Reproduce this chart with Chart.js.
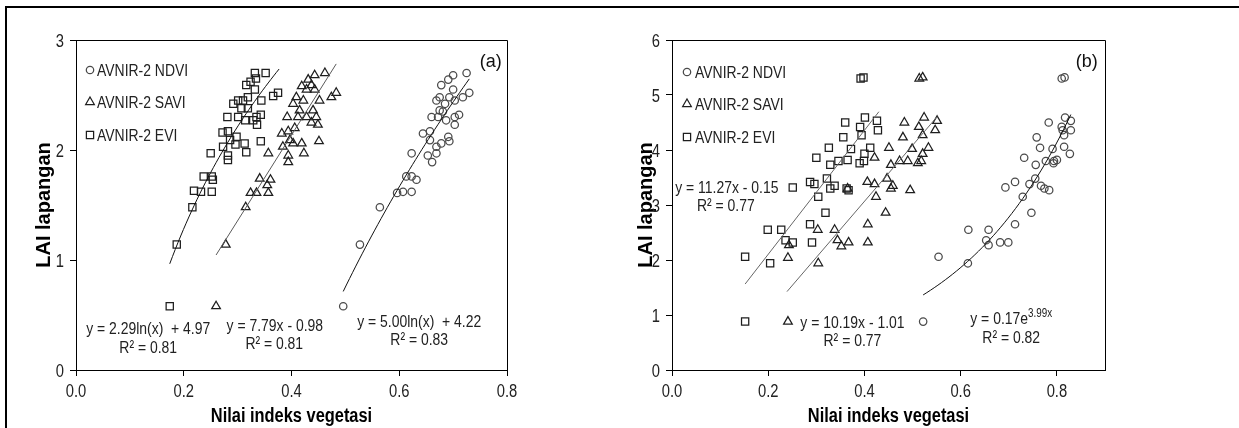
<!DOCTYPE html>
<html><head><meta charset="utf-8">
<script src="https://cdn.jsdelivr.net/npm/chart.js@4.4.0/dist/chart.umd.min.js"></script>
<style>
html,body{margin:0;padding:0;background:#fff;}
#wrap{position:relative;width:1239px;height:428px;overflow:hidden;background:#fff;}
#ca{position:absolute;left:0;top:0;}
#cb{position:absolute;left:620px;top:0;}
#frameTop{position:absolute;left:5px;top:6px;width:1234px;height:2px;background:#000;}
#frameLeft{position:absolute;left:5px;top:6px;width:2px;height:422px;background:#000;}
</style></head>
<body><div id="wrap">
<canvas id="ca" width="620" height="428"></canvas>
<canvas id="cb" width="619" height="428"></canvas>
<div id="frameTop"></div><div id="frameLeft"></div>
</div>
<script>
// ---------- DATA ----------
const seriesNames = ['AVNIR-2 NDVI', 'AVNIR-2 SAVI', 'AVNIR-2 EVI'];
const xTitle = 'Nilai indeks vegetasi';
const yTitle = 'LAI lapangan';

// Panel (a)
const a_evi = [[0.174,0.58],[0.187,1.14],[0.216,1.48],[0.219,1.63],[0.232,1.62],[0.237,1.76],[0.252,1.76],[0.254,1.73],[0.252,1.62],[0.250,1.97],[0.272,2.16],[0.273,2.03],[0.282,1.95],[0.282,1.91],[0.281,2.30],[0.282,2.17],[0.292,2.42],[0.296,2.05],[0.301,2.30],[0.301,2.45],[0.310,2.45],[0.307,2.38],[0.313,2.06],[0.316,1.98],[0.314,2.27],[0.316,2.59],[0.319,2.48],[0.324,2.62],[0.332,2.70],[0.334,2.65],[0.332,2.55],[0.335,2.30],[0.336,2.23],[0.343,2.32],[0.344,2.45],[0.343,2.08],[0.352,2.70],[0.366,2.49],[0.375,2.52],[0.286,2.09],[0.319,2.38],[0.298,2.12],[0.329,2.27]];
const a_savi = [[0.260,0.58],[0.278,1.14],[0.315,1.48],[0.324,1.61],[0.335,1.61],[0.341,1.74],[0.357,1.61],[0.355,1.68],[0.361,1.73],[0.357,1.97],[0.382,2.15],[0.384,2.03],[0.392,2.30],[0.394,1.95],[0.394,1.89],[0.394,2.17],[0.403,2.42],[0.406,2.20],[0.403,2.06],[0.409,2.48],[0.412,2.30],[0.419,2.58],[0.422,2.45],[0.415,2.36],[0.419,2.06],[0.423,1.97],[0.428,2.30],[0.431,2.64],[0.437,2.59],[0.443,2.68],[0.443,2.55],[0.446,2.30],[0.449,2.23],[0.452,2.45],[0.451,2.08],[0.462,2.70],[0.474,2.48],[0.483,2.52],[0.440,2.36],[0.437,2.25],[0.397,2.09],[0.428,2.55]];
const a_ndvi = [[0.496,0.58],[0.527,1.14],[0.564,1.48],[0.596,1.61],[0.607,1.62],[0.623,1.62],[0.613,1.76],[0.623,1.76],[0.632,1.73],[0.623,1.97],[0.644,2.15],[0.657,2.17],[0.653,1.95],[0.661,1.89],[0.660,2.30],[0.657,2.09],[0.669,2.45],[0.669,2.03],[0.669,1.97],[0.672,2.30],[0.675,2.48],[0.678,2.59],[0.685,2.42],[0.678,2.06],[0.687,2.27],[0.691,2.64],[0.691,2.12],[0.693,2.48],[0.693,2.08],[0.700,2.68],[0.700,2.55],[0.703,2.30],[0.703,2.23],[0.711,2.32],[0.703,2.45],[0.718,2.48],[0.725,2.70],[0.730,2.52],[0.675,2.36],[0.681,2.35]];

// Panel (b)
const b_evi = [[0.152,0.88],[0.152,2.06],[0.204,1.94],[0.199,2.55],[0.227,2.55],[0.236,2.36],[0.251,2.32],[0.251,3.32],[0.287,3.42],[0.296,3.38],[0.287,2.65],[0.291,2.32],[0.300,3.86],[0.304,3.15],[0.319,2.86],[0.322,3.48],[0.326,4.04],[0.329,3.73],[0.329,3.30],[0.338,3.35],[0.346,3.80],[0.356,4.23],[0.360,4.50],[0.365,3.82],[0.367,3.27],[0.372,4.02],[0.390,3.76],[0.391,4.42],[0.394,4.27],[0.399,3.80],[0.400,3.93],[0.401,4.59],[0.392,5.30],[0.398,5.32],[0.412,4.04],[0.426,4.53],[0.428,4.36],[0.363,3.30]];
const b_savi = [[0.241,0.88],[0.241,2.04],[0.243,2.27],[0.304,1.94],[0.303,2.55],[0.338,2.55],[0.344,2.36],[0.352,2.25],[0.367,2.32],[0.365,3.30],[0.407,2.65],[0.407,2.32],[0.406,3.42],[0.421,3.38],[0.421,3.86],[0.424,3.15],[0.444,2.86],[0.447,3.48],[0.451,4.04],[0.455,3.73],[0.455,3.30],[0.459,3.35],[0.473,3.80],[0.480,4.23],[0.483,4.50],[0.490,3.80],[0.495,3.27],[0.499,4.02],[0.511,3.76],[0.513,4.42],[0.521,4.27],[0.518,3.80],[0.521,3.93],[0.524,4.59],[0.514,5.30],[0.521,5.32],[0.533,4.04],[0.551,4.53],[0.547,4.36]];
const b_ndvi = [[0.522,0.88],[0.554,2.06],[0.615,1.94],[0.616,2.55],[0.653,2.36],[0.658,2.27],[0.658,2.55],[0.682,2.32],[0.699,2.32],[0.693,3.32],[0.713,3.42],[0.713,2.65],[0.729,3.15],[0.732,3.86],[0.743,3.38],[0.747,2.86],[0.755,3.48],[0.756,3.73],[0.758,4.23],[0.765,4.04],[0.767,3.35],[0.774,3.30],[0.777,3.80],[0.783,4.50],[0.784,3.27],[0.791,4.02],[0.793,3.76],[0.794,3.80],[0.800,3.82],[0.810,4.42],[0.815,4.27],[0.815,4.06],[0.810,5.30],[0.816,5.32],[0.817,4.59],[0.827,3.93],[0.829,4.53],[0.829,4.36],[0.812,4.36]];

// Trendlines: [type, coef1, coef2, xStart, xEnd] from the printed equations
const a_evi_fit  = ['log', 2.29, 4.97, 0.174, 0.377];
const a_savi_fit = ['lin', 7.79, -0.98, 0.260, 0.483];
const a_ndvi_fit = ['log', 5.00, 4.22, 0.496, 0.730];
const b_evi_fit  = ['lin', 11.27, -0.15, 0.152, 0.430];
const b_savi_fit = ['lin', 10.19, -1.01, 0.239, 0.551];
const b_ndvi_fit = ['exp', 0.17, 3.99, 0.522, 0.829];

// Equation labels
const a_eqs = [['y = 2.29ln(x)  + 4.97', 'R² = 0.81'], ['y = 7.79x - 0.98', 'R² = 0.81'], ['y = 5.00ln(x)  + 4.22', 'R² = 0.83']];
const b_eqs = [['y = 11.27x - 0.15', 'R² = 0.77'], ['y = 10.19x - 1.01', 'R² = 0.77'], ['y = 0.17e|3.99x', 'R² = 0.82']];

// ---------- RENDERING ----------
const FR = "'Liberation Sans', Arial, sans-serif";
const SX = 0.82;           // horizontal condensing of the reference lettering
const TXT = '#222';

function fitPoints(f){
  const [t, c1, c2, x0, x1] = f;
  const fn = t === 'lin' ? (x => c1 * x + c2) : t === 'log' ? (x => c1 * Math.log(x) + c2) : (x => c1 * Math.exp(c2 * x));
  const n = t === 'lin' ? 1 : 40;
  const out = [];
  for (let i = 0; i <= n; i++){ const x = x0 + (x1 - x0) * i / n; out.push({x, y: fn(x)}); }
  return out;
}
const toXY = arr => arr.map(p => ({x: p[0], y: p[1]}));

function ptDS(label, arr, style, r, color){
  return {type:'scatter', label, data: toXY(arr), pointStyle: style, pointRadius: r, pointHoverRadius: r,
    pointBorderColor: color, pointBackgroundColor: 'rgba(0,0,0,0)', pointBorderWidth: 1.25, showLine:false, order: 2};
}
function lineDS(f, color){
  return {type:'scatter', data: fitPoints(f), showLine:true, borderColor: color, borderWidth: 1, pointRadius:0, pointHoverRadius:0, fill:false, order: 1};
}

function drawMarker(ctx, style, r, x, y, color){
  ctx.save();
  ctx.strokeStyle = color; ctx.lineWidth = 1.25;
  ctx.beginPath();
  if (style === 'circle'){ ctx.arc(x, y, r, 0, Math.PI * 2); }
  else if (style === 'rect'){ const s = Math.SQRT1_2 * r; ctx.rect(x - s, y - s, 2 * s, 2 * s); }
  else { for (let i = 0; i < 3; i++){ const a = i * 2 * Math.PI / 3; const px = x + Math.sin(a) * r, py = y - Math.cos(a) * r; i ? ctx.lineTo(px, py) : ctx.moveTo(px, py);} ctx.closePath(); }
  ctx.stroke();
  ctx.restore();
}

// condensed text: font, text, x, baseline y, align
function ctext(ctx, font, text, x, y, align){
  ctx.save();
  ctx.font = font; ctx.textBaseline = 'alphabetic'; ctx.textAlign = align || 'left';
  ctx.translate(x, y); ctx.scale(SX, 1);
  ctx.fillText(text, 0, 0);
  ctx.restore();
}
function cwidth(ctx, font, text){ ctx.save(); ctx.font = font; const w = ctx.measureText(text).width * SX; ctx.restore(); return w; }

const deco = {
  id: 'deco',
  afterDraw(chart, args, o){
    const {ctx, chartArea: ca, scales} = chart;
    const xs = scales.x, ys = scales.y;
    ctx.save();
    // plot frame (top & right)
    ctx.strokeStyle = '#000'; ctx.lineWidth = 1;
    ctx.beginPath();
    const L = Math.round(ca.left) + 0.5, T = Math.round(ca.top) + 0.5, R = Math.round(ca.right) + 0.5, B = Math.round(ca.bottom) + 0.5;
    ctx.moveTo(L, T); ctx.lineTo(R, T); ctx.lineTo(R, B); ctx.stroke();
    ctx.fillStyle = TXT;
    // tick labels from the library's scales
    const tf = '18px ' + FR;
    xs.ticks.forEach(t => ctext(ctx, tf, Number(t.value).toFixed(1), xs.getPixelForValue(t.value), ca.bottom + 27, 'center'));
    ys.ticks.forEach(t => ctext(ctx, tf, String(Math.round(t.value)), ca.left - 12, ys.getPixelForValue(t.value) + 6.5, 'right'));
    // x axis title
    ctx.fillStyle = '#000';
    ctext(ctx, 'bold 20px ' + FR, xTitle, (ca.left + ca.right) / 2, 422, 'center');
    // legend
    ctx.fillStyle = TXT;
    const lf = '17px ' + FR;
    o.legend.rows.forEach((row, i) => {
      const y = o.legend.y[i];
      drawMarker(ctx, row.style, row.r, ca.left + o.legend.mx, y, row.color);
      ctext(ctx, lf, row.text, ca.left + o.legend.tx, y + 6, 'left');
    });
    // equations
    o.eqs.forEach(e => {
      const px = xs.getPixelForValue(e.x), py = ys.getPixelForValue(e.y) + 6;
      if (e.text.includes('|')){
        const [base, sup] = e.text.split('|');
        const w1 = cwidth(ctx, lf, base), w2 = cwidth(ctx, '12px ' + FR, sup);
        const sx = px - (w1 + w2) / 2;
        ctext(ctx, lf, base, sx, py, 'left');
        ctext(ctx, '12px ' + FR, sup, sx + w1, py - 7, 'left');
      } else {
        ctext(ctx, lf, e.text, px, py, 'center');
      }
    });
    // panel tag
    ctx.font = '18px ' + FR; ctx.fillStyle = '#111'; ctx.textAlign = 'center'; ctx.textBaseline = 'middle';
    ctx.fillText(o.tag.text, xs.getPixelForValue(o.tag.x), ys.getPixelForValue(o.tag.y));
    ctx.restore();
  }
};

function axes(xmax, ymax, leftW, yTitlePad){
  return {
    x: {type:'linear', min:0, max:xmax,
      afterFit: s => { s.height = 58; },
      ticks:{stepSize:0.2, includeBounds:false, color:'rgba(0,0,0,0)', font:{family:FR, size:14}, padding:2, maxRotation:0, callback: v => Number(v).toFixed(1)},
      grid:{display:true, drawOnChartArea:false, drawTicks:true, tickLength:6, tickColor:'#000', tickWidth:1},
      border:{display:true, color:'#000', width:1},
      title:{display:false}
    },
    y: {type:'linear', min:0, max:ymax,
      afterFit: s => { s.width = leftW; },
      ticks:{stepSize:1, includeBounds:false, color:'rgba(0,0,0,0)', font:{family:FR, size:14}, padding:5, callback: v => String(Math.round(v))},
      grid:{display:true, drawOnChartArea:false, drawTicks:true, tickLength:6, tickColor:'#000', tickWidth:1},
      border:{display:true, color:'#000', width:1},
      title:{display:true, text:yTitle, color:'#000', font:{family:FR, size:20, weight:'bold'}, padding:{top:yTitlePad, bottom:0}}
    }
  };
}

const CIRC = '#4a4a4a', DARK = '#1e1e1e';

new Chart(document.getElementById('ca'), {
  data: {datasets: [
    ptDS(seriesNames[2], a_evi, 'rect', 5.1, DARK),
    ptDS(seriesNames[1], a_savi, 'triangle', 5, DARK),
    ptDS(seriesNames[0], a_ndvi, 'circle', 3.7, CIRC),
    lineDS(a_evi_fit, '#111'),
    lineDS(a_savi_fit, '#5a5a5a'),
    lineDS(a_ndvi_fit, '#111')
  ]},
  options: {
    responsive:false, animation:false, events:[],
    layout:{padding:{left:0, top:40, right:113, bottom:0}},
    scales: axes(0.8, 3, 76, 32),
    plugins: {legend:{display:false}, tooltip:{enabled:false},
      deco: {
        legend: {mx:14, tx:21, y:[70, 102, 135], rows:[
          {style:'circle', r:3.7, color:CIRC, text:seriesNames[0]},
          {style:'triangle', r:5, color:DARK, text:seriesNames[1]},
          {style:'rect', r:5.1, color:DARK, text:seriesNames[2]}]},
        eqs: [
          {text:a_eqs[0][0], x:0.134, y:0.38}, {text:a_eqs[0][1], x:0.134, y:0.21},
          {text:a_eqs[1][0], x:0.369, y:0.41}, {text:a_eqs[1][1], x:0.368, y:0.245},
          {text:a_eqs[2][0], x:0.637, y:0.445}, {text:a_eqs[2][1], x:0.637, y:0.28}],
        tag: {text:'(a)', x:0.770, y:2.80}
      }
    }
  },
  plugins:[deco]
});

new Chart(document.getElementById('cb'), {
  data: {datasets: [
    ptDS(seriesNames[2], b_evi, 'rect', 5.1, DARK),
    ptDS(seriesNames[1], b_savi, 'triangle', 5, DARK),
    ptDS(seriesNames[0], b_ndvi, 'circle', 3.7, CIRC),
    lineDS(b_evi_fit, '#666'),
    lineDS(b_savi_fit, '#666'),
    lineDS(b_ndvi_fit, '#111')
  ]},
  options: {
    responsive:false, animation:false, events:[],
    layout:{padding:{left:0, top:40, right:134, bottom:0}},
    scales: axes(0.9, 6, 52, 14),
    plugins: {legend:{display:false}, tooltip:{enabled:false},
      deco: {
        legend: {mx:15, tx:23, y:[72, 104, 137], rows:[
          {style:'circle', r:3.7, color:CIRC, text:seriesNames[0]},
          {style:'triangle', r:5, color:DARK, text:seriesNames[1]},
          {style:'rect', r:5.1, color:DARK, text:seriesNames[2]}]},
        eqs: [
          {text:b_eqs[0][0], x:0.114, y:3.33}, {text:b_eqs[0][1], x:0.112, y:3.0},
          {text:b_eqs[1][0], x:0.375, y:0.87}, {text:b_eqs[1][1], x:0.375, y:0.545},
          {text:b_eqs[2][0], x:0.705, y:0.945}, {text:b_eqs[2][1], x:0.705, y:0.60}],
        tag: {text:'(b)', x:0.862, y:5.6}
      }
    }
  },
  plugins:[deco]
});
</script>
</body></html>
